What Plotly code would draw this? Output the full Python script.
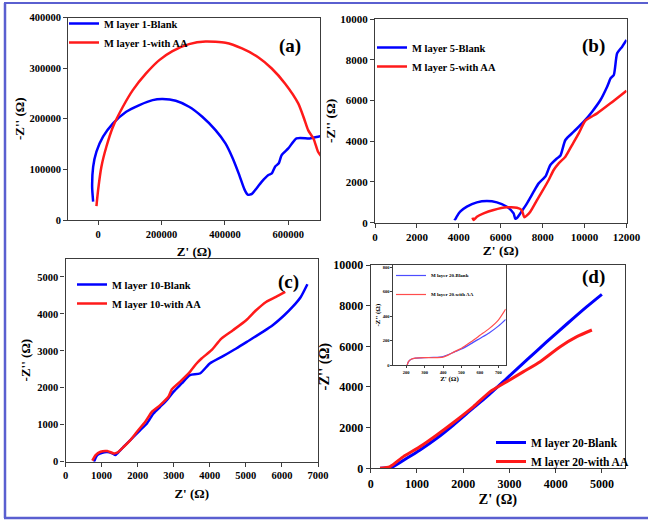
import plotly.graph_objects as go

W, H = 648, 522

# ---------------- data ----------------
# (a) M layer 1
a_blank_x = [-15650, -18800, -15650, -5200, 15650, 47000, 88700, 130400, 172000, 203400, 245000,
             286900, 328600, 370400, 401700, 422500, 443400, 462000, 472000, 485200, 495600, 516500,
             537300, 548000, 558200, 570000, 579000, 599900, 626000, 667700, 693800, 705000]
a_blank_y = [36200, 65800, 105000, 135000, 164500, 190800, 213800, 227000, 236800, 238800, 235500,
             223700, 204000, 177600, 151300, 125000, 92100, 60000, 50000, 51500, 59200, 75700,
             88800, 92000, 105300, 112000, 128300, 141400, 161200, 161200, 164500, 166000]
a_aa_x = [-5200, 0, 10400, 26100, 47000, 78200, 109500, 151300, 193000, 234700, 286900, 339000,
          401700, 453900, 506000, 547800, 589500, 631300, 650000, 662600, 680000, 693800, 705000]
a_aa_y = [27600, 59200, 105300, 144700, 184200, 223700, 256600, 289500, 315800, 333600, 347400,
          352600, 350000, 338800, 321000, 299300, 269700, 230300, 200000, 177600, 160000, 134900, 125000]

# (b) M layer 5
b_blank_x = [3780, 3825, 3900, 4064, 4383, 4861, 5339, 5817, 6295, 6614, 6693, 6773, 6932, 7251,
             7570, 7809, 8048, 8150, 8367, 8686, 8850, 9084, 9482, 9960, 10359, 10757, 11076,
             11250, 11394, 11554, 11793, 12000]
b_blank_y = [200, 164, 300, 540, 786, 998, 1064, 998, 786, 458, 200, 230, 458, 949,
             1522, 1931, 2177, 2300, 2831, 3159, 3300, 4059, 4468, 4959, 5450, 6023, 6678,
             7100, 7250, 8314, 8642, 8969]
b_aa_x = [4650, 4701, 4861, 5180, 5658, 6295, 6773, 7000, 7124, 7250, 7410, 7729, 7968, 8287,
          8526, 8765, 9084, 9402, 9721, 10040, 10598, 11235, 12000]
b_aa_y = [250, 131, 295, 458, 622, 753, 736, 620, 262, 360, 540, 1113, 1522, 2095,
          2586, 2913, 3240, 3813, 4386, 5008, 5368, 5859, 6481]

# (c) M layer 10
c_blank_x = [789, 881, 1018, 1156, 1294, 1385, 1523, 1706, 1890, 2073, 2257, 2440, 2624, 2807,
             2991, 3220, 3450, 3725, 4000, 4367, 4734, 5101, 5468, 5743, 6064, 6294, 6523, 6706]
c_blank_y = [0, 180, 243, 261, 225, 180, 315, 495, 676, 856, 1036, 1306, 1486, 1667,
             1892, 2117, 2342, 2387, 2658, 2856, 3063, 3288, 3514, 3694, 3964, 4189, 4459, 4802]
c_aa_x = [743, 835, 972, 1156, 1339, 1431, 1615, 1798, 1982, 2211, 2394, 2624, 2853, 2945,
          3174, 3450, 3633, 3771, 4046, 4321, 4642, 5009, 5284, 5560, 5835, 6092]
c_aa_y = [27, 180, 270, 288, 225, 243, 405, 586, 811, 1081, 1351, 1532, 1757, 1955,
          2162, 2432, 2658, 2793, 3018, 3333, 3559, 3829, 4099, 4324, 4459, 4595]

# (d) M layer 20
d_blank_x = [202, 455, 779, 1068, 1429, 1789, 2150, 2511, 2944, 3377, 3810, 4242, 4675, 5000]
d_blank_y = [0, 49, 492, 902, 1475, 2131, 2836, 3525, 4426, 5328, 6230, 7098, 7951, 8557]
d_aa_x = [202, 418, 707, 1068, 1429, 1861, 2222, 2583, 2944, 3305, 3665, 4098, 4459, 4784]
d_aa_y = [0, 82, 574, 1066, 1639, 2377, 3033, 3770, 4262, 4754, 5246, 5984, 6475, 6803]

# (d) inset
i_x = [205, 212, 225, 250, 300, 350, 400, 430, 460, 500, 550, 600, 650, 700, 740]
i_blank_y = [0, 28, 47, 58, 63, 65, 72, 88, 108, 133, 175, 220, 265, 320, 375]
i_aa_y = [0, 30, 48, 58, 62, 62, 67, 85, 110, 140, 190, 245, 300, 370, 460]

# ticks
a_xticks = [0, 200000, 400000, 600000]
a_yticks = [0, 100000, 200000, 300000, 400000]
b_xticks = [0, 2000, 4000, 6000, 8000, 10000, 12000]
b_yticks = [0, 2000, 4000, 6000, 8000, 10000]
c_xticks = [0, 1000, 2000, 3000, 4000, 5000, 6000, 7000]
c_yticks = [0, 1000, 2000, 3000, 4000, 5000]
d_xticks = [0, 1000, 2000, 3000, 4000, 5000]
d_yticks = [0, 2000, 4000, 6000, 8000, 10000]
i_xticks = [200, 300, 400, 500, 600, 700]
i_yticks = [0, 200, 400, 600, 800]

BLUE = "#0000ff"
RED = "#ff1a1a"
FONT = "Liberation Serif"


def px(x):
    return x / W


def py(y):
    return 1 - y / H


fig = go.Figure()


def add(x, y, name, color, xa, ya, legend, width=2.5):
    fig.add_trace(go.Scatter(x=x, y=y, name=name, mode="lines",
                             line=dict(color=color, width=width, shape="spline", smoothing=0.6),
                             xaxis=xa, yaxis=ya, legend=legend))


add(a_blank_x, a_blank_y, "M layer 1-Blank", BLUE, "x", "y", "legend")
add(a_aa_x, a_aa_y, "M layer 1-with AA", RED, "x", "y", "legend")
add(b_blank_x, b_blank_y, "M layer 5-Blank", BLUE, "x2", "y2", "legend2")
add(b_aa_x, b_aa_y, "M layer 5-with AA", RED, "x2", "y2", "legend2")
add(c_blank_x, c_blank_y, "M layer 10-Blank", BLUE, "x3", "y3", "legend3")
add(c_aa_x, c_aa_y, "M layer 10-with AA", RED, "x3", "y3", "legend3")
add(d_blank_x, d_blank_y, "M layer 20-Blank", BLUE, "x4", "y4", "legend4", width=3)
add(d_aa_x, d_aa_y, "M layer 20-with AA", RED, "x4", "y4", "legend4", width=3)
add(i_x, i_blank_y, "M layer 20-Blank", "#4d4dff", "x5", "y5", "legend5", width=1.2)
add(i_x, i_aa_y, "M layer 20-with AA", "#ff4d4d", "x5", "y5", "legend5", width=1.2)


def axis(domain, rng, ticks, anchor, size, title, standoff, tsize=None, lw=1.2, ticklen=4):
    return dict(domain=domain, range=rng, tickvals=ticks, ticktext=[str(t) for t in ticks],
                anchor=anchor, showgrid=False, zeroline=False, showline=True, mirror=True,
                linecolor="#3c3c3c", linewidth=lw, ticks="outside", ticklen=ticklen,
                tickwidth=lw, tickcolor="#3c3c3c",
                tickfont=dict(family=FONT, size=size, color="black", weight="bold"),
                title=dict(text=title, standoff=standoff,
                           font=dict(family=FONT, size=tsize or size + 2.5, color="black",
                                     weight="bold")),
                automargin=False)


XT = "Z' (Ω)"
YT = "-Z'' (Ω)"

layout = dict(
    width=W, height=H, margin=dict(l=0, r=0, t=0, b=0),
    paper_bgcolor="white", plot_bgcolor="white", showlegend=True,
    xaxis=axis([px(68.3), px(320)], [-94000, 700000], a_xticks, "y", 10.5, XT, 8),
    yaxis=axis([py(220), py(17.5)], [0, 400000], a_yticks, "x", 10.5, YT, 2),
    xaxis2=axis([px(375), px(626.5)], [0, 12000], b_xticks, "y2", 11, XT, 1),
    yaxis2=axis([py(222.7), py(19)], [0, 10000], b_yticks, "x2", 11, YT, 1),
    xaxis3=axis([px(65.5), px(318)], [0, 7000], c_xticks, "y3", 10.5, XT, 8),
    yaxis3=axis([py(461.7), py(258.5)], [0, 5500], c_yticks, "x3", 10.5, YT, 3),
    xaxis4=axis([px(370.7), px(625)], [0, 5500], d_xticks, "y4", 12, XT, 0, tsize=14.5),
    yaxis4=axis([py(468.3), py(265)], [0, 10000], d_yticks, "x4", 12, YT, 0, tsize=14.5),
    xaxis5=axis([px(393.3), px(505.7)], [130, 740], i_xticks, "y5", 4.5, XT, 1, lw=0.8, ticklen=2),
    yaxis5=axis([py(365.3), py(265)], [0, 820], i_yticks, "x5", 4.5, YT, 1, lw=0.8, ticklen=2),
)


def leg(x, y, size=10.5):
    return dict(x=x, y=y, xanchor="left", yanchor="top", bgcolor="rgba(0,0,0,0)",
                font=dict(family=FONT, size=size, color="black", weight="bold"),
                itemwidth=30, tracegroupgap=0)


layout["legend"] = leg(px(64), py(9))
layout["legend2"] = leg(px(372), py(33))
layout["legend3"] = leg(px(72), py(270))
layout["legend4"] = leg(px(491), py(428), 11.5)
layout["legend5"] = leg(px(391), py(261), 5)

fig.update_layout(**layout)

# panel labels
for txt, x, y in [("(a)", 290, 33), ("(b)", 607, 33), ("(c)", 288, 282), ("(d)", 607, 277)]:
    fig.add_annotation(text=txt, x=px(x), y=py(y), xref="paper", yref="paper", showarrow=False,
                       font=dict(family=FONT, size=19, color="black", weight="bold"))

# outer frame
frame = "#5a5fd0"
fig.add_shape(type="line", xref="paper", yref="paper", x0=px(4), x1=1, y0=py(3), y1=py(3),
              line=dict(color=frame, width=2))
fig.add_shape(type="line", xref="paper", yref="paper", x0=px(5), x1=px(5), y0=py(3), y1=py(518),
              line=dict(color=frame, width=2.5))
fig.add_shape(type="line", xref="paper", yref="paper", x0=px(4), x1=1, y0=py(518), y1=py(518),
              line=dict(color=frame, width=2.5))

fig.write_html("out.html")
